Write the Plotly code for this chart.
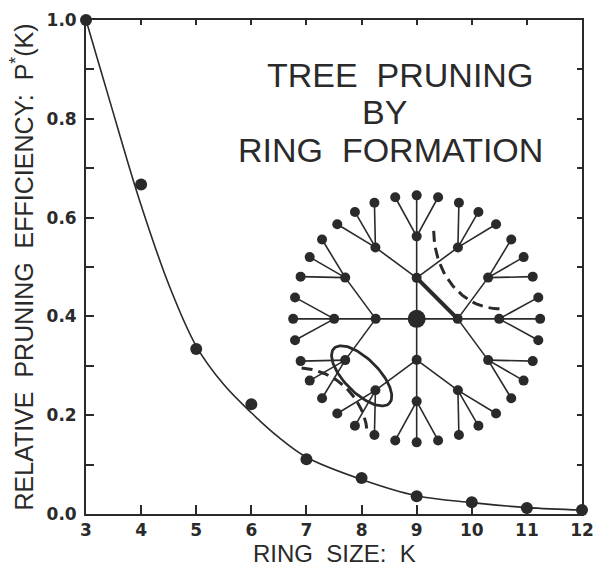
import numpy as np
import plotly.graph_objects as go

# ---------------- data ----------------
RING_SIZE_K = [3, 4, 5, 6, 7, 8, 9, 10, 11, 12]
EFFICIENCY_P = [1.0, 0.667, 0.334, 0.222, 0.111, 0.073, 0.036, 0.024, 0.012, 0.008]

CURVE_K = [3.0, 3.25, 3.5, 3.75, 4.0, 4.5, 5.0, 5.5, 6.0, 6.5, 7.0, 8.0, 9.0, 10.0, 11.0, 12.0]
CURVE_P = [1.0, 0.905, 0.81, 0.715, 0.625, 0.465, 0.34, 0.262, 0.205, 0.155, 0.115, 0.07, 0.037, 0.023, 0.013, 0.008]

X_TICKS = [3, 4, 5, 6, 7, 8, 9, 10, 11, 12]
Y_TICKS = [0.0, 0.2, 0.4, 0.6, 0.8, 1.0]
Y_MINOR = [0.0, 0.1, 0.2, 0.3, 0.4, 0.5, 0.6, 0.7, 0.8, 0.9, 1.0]

X_TITLE = "RING\u00a0\u00a0SIZE:\u00a0\u00a0K"
Y_TITLE = "RELATIVE\u00a0\u00a0PRUNING\u00a0\u00a0EFFICIENCY:\u00a0\u00a0P<sup>*</sup>(K)"

TITLE_LINES = ["TREE\u00a0\u00a0PRUNING", "BY", "RING\u00a0\u00a0FORMATION"]
TITLE_X = [8.70, 8.41, 8.53]
TITLE_Y = [0.889, 0.813, 0.737]

# inset tree diagram (Bethe-lattice sketch), centre in data units, radii in px
TREE_CX, TREE_CY = 9.0, 0.395
L1_ANGLES = [0, 90, 180, 270]
L2_SPREAD = 30
L3_SPREAD = 10
RADII_PX = [41.0, 82.5, 123.5]

# ---------------- layout geometry ----------------
W, H = 595, 566
ML, MR, MT, MB = 86, 13, 20, 52
X_RANGE = [3, 12]
Y_RANGE = [0, 1]
PX_X = (W - ML - MR) / (X_RANGE[1] - X_RANGE[0])
PX_Y = (H - MT - MB) / (Y_RANGE[1] - Y_RANGE[0])

INK = "#2a2a2a"


def to_xy(dx, dy):
    return TREE_CX + dx / PX_X, TREE_CY + dy / PX_Y


def polar(r, ang):
    a = np.radians(ang)
    return r * np.cos(a), r * np.sin(a)


# build tree nodes/edges
nodes_small = []
edges_x, edges_y = [], []


def add_edge(p, q):
    x0, y0 = to_xy(*p)
    x1, y1 = to_xy(*q)
    edges_x.extend([x0, x1, None])
    edges_y.extend([y0, y1, None])


root = (0.0, 0.0)
for a1 in L1_ANGLES:
    p1 = polar(RADII_PX[0], a1)
    nodes_small.append(p1)
    add_edge(root, p1)
    for a2 in (a1 - L2_SPREAD, a1, a1 + L2_SPREAD):
        p2 = polar(RADII_PX[1], a2)
        nodes_small.append(p2)
        add_edge(p1, p2)
        for a3 in (a2 - L3_SPREAD, a2, a2 + L3_SPREAD):
            p3 = polar(RADII_PX[2], a3)
            nodes_small.append(p3)
            add_edge(p2, p3)

nx_, ny_ = zip(*[to_xy(*p) for p in nodes_small])

# ring closure (thick bond) between the 90deg and 0deg first-shell nodes
ring_a = to_xy(*polar(RADII_PX[0], 90))
ring_b = to_xy(*polar(RADII_PX[0], 0))

# dashed cut (upper right): quarter ellipse
t = np.radians(np.linspace(0, 90, 40))
cut1 = [to_xy(83 - 66 * np.cos(tt), 88 - 78 * np.sin(tt)) for tt in t]
# dashed cut (lower left): quarter circle
th = np.radians(np.linspace(86, 4, 40))
cut2 = [to_xy(-120 + 71 * np.cos(tt), -120 + 71 * np.sin(tt)) for tt in th]
# ellipse around the pruned pair
s = np.radians(np.linspace(0, 360, 120))
ea, eb, erot = 39, 17, np.radians(-45)
ell = [to_xy(-55 + ea * np.cos(ss) * np.cos(erot) - eb * np.sin(ss) * np.sin(erot),
             -57 + ea * np.cos(ss) * np.sin(erot) + eb * np.sin(ss) * np.cos(erot)) for ss in s]

fig = go.Figure()

# tree edges
fig.add_trace(go.Scatter(x=edges_x, y=edges_y, mode="lines",
                         line=dict(color=INK, width=1.6), hoverinfo="skip", showlegend=False))
fig.add_trace(go.Scatter(x=[ring_a[0], ring_b[0]], y=[ring_a[1], ring_b[1]], mode="lines",
                         line=dict(color=INK, width=4.2), hoverinfo="skip", showlegend=False))
fig.add_trace(go.Scatter(x=[p[0] for p in cut1], y=[p[1] for p in cut1], mode="lines",
                         line=dict(color=INK, width=3, dash="11px,6px"), hoverinfo="skip", showlegend=False))
fig.add_trace(go.Scatter(x=[p[0] for p in cut2], y=[p[1] for p in cut2], mode="lines",
                         line=dict(color=INK, width=3, dash="11px,6px"), hoverinfo="skip", showlegend=False))
fig.add_trace(go.Scatter(x=[p[0] for p in ell], y=[p[1] for p in ell], mode="lines",
                         line=dict(color=INK, width=2.8), hoverinfo="skip", showlegend=False))
fig.add_trace(go.Scatter(x=list(nx_), y=list(ny_), mode="markers",
                         marker=dict(color=INK, size=10), hoverinfo="skip", showlegend=False))
fig.add_trace(go.Scatter(x=[TREE_CX], y=[TREE_CY], mode="markers",
                         marker=dict(color=INK, size=18), hoverinfo="skip", showlegend=False))

# fitted curve and data
fig.add_trace(go.Scatter(x=CURVE_K, y=CURVE_P, mode="lines", line_shape="spline",
                         line=dict(color=INK, width=1.6), showlegend=False, cliponaxis=False))
fig.add_trace(go.Scatter(x=RING_SIZE_K, y=EFFICIENCY_P, mode="markers",
                         marker=dict(color=INK, size=12), showlegend=False, cliponaxis=False))

# helper trace for mirrored (top / right) axes
fig.add_trace(go.Scatter(x=[X_RANGE[0]], y=[Y_RANGE[0]], xaxis="x2", yaxis="y2", mode="markers",
                         marker=dict(opacity=0), hoverinfo="skip", showlegend=False))

for txt, xx, yy in zip(TITLE_LINES, TITLE_X, TITLE_Y):
    fig.add_annotation(x=xx, y=yy, text=txt, showarrow=False, xanchor="center", yanchor="middle",
                       font=dict(family="Liberation Sans", size=34, color=INK))

tick_font = dict(family="DejaVu Sans", size=17, color=INK, weight="bold")
title_font = dict(family="Liberation Sans", size=25, color=INK)

# x-axis title placed at the very bottom of the page
fig.add_annotation(x=0.5, xref="paper", y=0, yref="paper", yanchor="bottom", yshift=-MB - 3,
                   text=X_TITLE, showarrow=False, font=dict(family="Liberation Sans", size=24, color=INK))

fig.update_layout(
    width=W, height=H,
    margin=dict(l=ML, r=MR, t=MT, b=MB, autoexpand=False),
    paper_bgcolor="white", plot_bgcolor="white",
    xaxis=dict(range=X_RANGE, tickvals=X_TICKS, ticks="inside", ticklen=9, tickwidth=1.5,
               tickcolor=INK, showline=True, linecolor=INK, linewidth=1.8, showgrid=False,
               zeroline=False, tickfont=tick_font, ticklabelstandoff=0),
    yaxis=dict(range=Y_RANGE, tickvals=Y_TICKS, ticktext=[f"{v:.1f}" for v in Y_TICKS],
               ticks="inside", ticklen=8, tickwidth=1.5,
               tickcolor=INK, showline=True, linecolor=INK, linewidth=1.8, showgrid=False,
               zeroline=False, tickfont=tick_font, ticklabelstandoff=4,
               minor=dict(tickvals=Y_MINOR, ticks="inside", ticklen=8, tickwidth=1.5, tickcolor=INK),
               title=dict(text=Y_TITLE, font=title_font, standoff=6)),
    xaxis2=dict(range=X_RANGE, overlaying="x", side="top", tickvals=X_TICKS, ticks="inside",
                ticklen=5, tickwidth=1.5, tickcolor=INK, showline=True, linecolor=INK, linewidth=1.8,
                showticklabels=False, showgrid=False, zeroline=False),
    yaxis2=dict(range=Y_RANGE, overlaying="y", side="right", tickvals=Y_MINOR, ticks="inside",
                ticklen=5, tickwidth=1.5, tickcolor=INK, showline=True, linecolor=INK, linewidth=1.8,
                showticklabels=False, showgrid=False, zeroline=False),
)

fig.write_html("out.html")
